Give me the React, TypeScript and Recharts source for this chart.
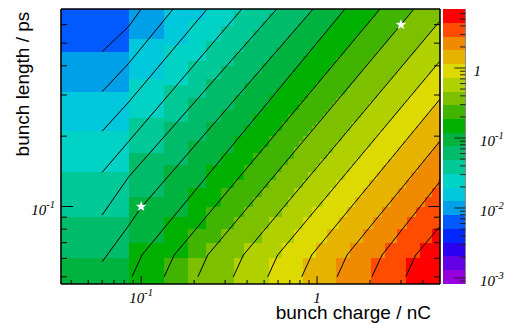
import { ReferenceArea, Scatter, ScatterChart, XAxis, YAxis } from "recharts";

// axis ranges
const chargeRange: [number, number] = [0.035, 5];
const lengthRange: [number, number] = [0.0466, 0.7];

const chargeTicks = [0.04, 0.05, 0.06, 0.07, 0.08, 0.09, 0.1, 0.2, 0.3, 0.4, 0.5, 0.6, 0.7, 0.8, 0.9, 1, 2, 3, 4];
const lengthTicks = [0.05, 0.06, 0.07, 0.08, 0.09, 0.1, 0.2, 0.3, 0.4, 0.5, 0.6];
const zTicks = [
  0.0009, 0.001, 0.002, 0.003, 0.004, 0.005, 0.006, 0.007, 0.008, 0.009,
  0.01, 0.02, 0.03, 0.04, 0.05, 0.06, 0.07, 0.08, 0.09,
  0.1, 0.2, 0.3, 0.4, 0.5, 0.6, 0.7, 0.8, 0.9,
  1, 2, 3, 4, 5, 6,
];

// 20 log-spaced colour levels of the z axis
const zLevels = [
  0.00082, 0.00129, 0.00203, 0.00318, 0.00501, 0.00787, 0.0124, 0.0195, 0.0306, 0.0481,
  0.0757, 0.119, 0.187, 0.294, 0.461, 0.726, 1.14, 1.79, 2.82, 4.43, 6.97,
];

// histogram binning: charge in 0.05 nC bins, length in 0.01 ps bins
const chargeBinLow = 0.035;
const chargeBinWidth = 0.05;
const chargeBinCount = 100;
const lengthBinEdges = [0.0466, ...Array.from({ length: 65 }, (_, k) => +(0.06 + 0.01 * k).toFixed(2))];

// contour lines through the bin centres, [charge nC, length ps]
const contour01 = [[0.06, 0.46], [0.085, 0.59], [0.1, 0.7]];
const contour02 = [[0.06, 0.31], [0.085, 0.41], [0.152, 0.7]];
const contour03 = [[0.06, 0.21], [0.085, 0.28], [0.237, 0.7]];
const contour04 = [[0.06, 0.14], [0.085, 0.19], [0.374, 0.7]];
const contour05 = [[0.06, 0.092], [0.085, 0.134], [0.59, 0.7]];
const contour06 = [[0.06, 0.058], [0.085, 0.083], [0.1, 0.099], [0.95, 0.7]];
const contour07 = [[0.0886, 0.05], [0.101, 0.062], [1.44, 0.7]];
const contour08 = [[0.135, 0.05], [0.154, 0.062], [2.28, 0.7]];
const contour09 = [[0.21, 0.05], [0.239, 0.062], [3.56, 0.7]];
const contour10 = [[0.334, 0.05], [0.381, 0.062], [4.96, 0.618]];
const contour11 = [[0.524, 0.05], [0.597, 0.062], [4.96, 0.4165]];
const contour12 = [[0.818, 0.05], [0.932, 0.062], [4.96, 0.286]];
const contour13 = [[1.3, 0.05], [1.48, 0.062], [4.96, 0.189]];
const contour14 = [[2.05, 0.05], [2.34, 0.062], [4.96, 0.127]];
const contour15 = [[3.19, 0.05], [3.64, 0.062], [4.96, 0.0817]];
const contours = [
  contour01, contour02, contour03, contour04, contour05, contour06, contour07, contour08,
  contour09, contour10, contour11, contour12, contour13, contour14, contour15,
];
const topLeftBand = 4;

const markers = [
  { q: 0.1, s: 0.1 },
  { q: 3, s: 0.6 },
];

// colour bar span used for the palette chart
const barSpan = [{ x: 0, z: zLevels[0] }, { x: 1, z: zLevels[zLevels.length - 1] }];

const palette = [
  "#9600dc", "#6400e6", "#2c00f0", "#0028ff", "#005aff", "#00a0e8", "#00c8dc", "#00d2c6",
  "#00c896", "#00bc6a", "#00b23e", "#00b000", "#40b400", "#7cc000", "#b0d000", "#dcda00",
  "#e6b400", "#f08a00", "#ff4c00", "#ff0000",
];

const serif = '"Liberation Serif", "Times New Roman", serif';
const sans = '"Liberation Sans", Arial, Helvetica, sans-serif';

function lengthOnContour(line: number[][], q: number) {
  const first = line[0];
  const last = line[line.length - 1];
  if (q <= first[0]) return first[1];
  if (q >= last[0]) return last[1];
  for (let i = 1; i < line.length; i++) {
    if (q <= line[i][0]) {
      const [q0, s0] = line[i - 1];
      const [q1, s1] = line[i];
      const t = Math.log10(q / q0) / Math.log10(q1 / q0);
      return 10 ** (Math.log10(s0) + t * Math.log10(s1 / s0));
    }
  }
  return last[1];
}

type Cell = { q1: number; q2: number; s1: number; s2: number; band: number };
const cells: Cell[] = [];
for (let r = 0; r < lengthBinEdges.length - 1; r++) {
  const s1 = lengthBinEdges[r];
  const s2 = lengthBinEdges[r + 1];
  const sc = r === 0 ? 0.05 : s1 + 0.005;
  let runStart = chargeRange[0];
  let runBand = -1;
  for (let i = 0; i < chargeBinCount; i++) {
    const qLo = Math.max(chargeBinLow + i * chargeBinWidth, chargeRange[0]);
    const qc = chargeBinLow + (i + 0.5) * chargeBinWidth;
    const band = topLeftBand + contours.filter((c) => sc < lengthOnContour(c, qc)).length;
    if (band !== runBand) {
      if (runBand >= 0) cells.push({ q1: runStart, q2: qLo, s1, s2, band: runBand });
      runStart = qLo;
      runBand = band;
    }
  }
  cells.push({ q1: runStart, q2: chargeRange[1], s1, s2, band: runBand });
}

const isMajor = (v: number) => Math.abs(Math.log10(v) - Math.round(Math.log10(v))) < 1e-6;

function PowerLabel({ x, y, value, anchor }: any) {
  const exp = Math.round(Math.log10(value));
  return (
    <text x={x} y={y} textAnchor={anchor} fontFamily={serif} fontStyle="italic" fontSize={15} fill="#000">
      {exp === 0 ? "1" : "10"}
      {exp !== 0 && (
        <tspan dy={-7} fontSize={10.5}>
          {exp}
        </tspan>
      )}
    </text>
  );
}

function BottomTick({ x, y, payload }: any) {
  const major = isMajor(payload.value);
  return (
    <g>
      <line x1={x} y1={y} x2={x} y2={y - (major ? 8 : 4)} stroke="#000" />
      {major && <PowerLabel x={x} y={y + 19} value={payload.value} anchor="middle" />}
    </g>
  );
}

function TopTick({ x, y, payload }: any) {
  const major = isMajor(payload.value);
  return <line x1={x} y1={y} x2={x} y2={y + (major ? 8 : 4)} stroke="#000" />;
}

function LeftTick({ x, y, payload }: any) {
  const major = isMajor(payload.value);
  return (
    <g>
      <line x1={x} y1={y} x2={x + (major ? 12 : 6)} y2={y} stroke="#000" />
      {major && <PowerLabel x={x - 6} y={y + 8.5} value={payload.value} anchor="end" />}
    </g>
  );
}

function RightTick({ x, y, payload }: any) {
  const major = isMajor(payload.value);
  return <line x1={x} y1={y} x2={x - (major ? 12 : 6)} y2={y} stroke="#000" />;
}

function ZTick({ x, y, payload }: any) {
  const major = isMajor(payload.value);
  const one = Math.abs(payload.value - 1) < 1e-9;
  return (
    <g>
      <line x1={x} y1={y} x2={x - (major ? 11 : 5.5)} y2={y} stroke="#222" />
      {major && <PowerLabel x={x + (one ? 8 : 14.5)} y={y + (one ? 7.5 : 8.5)} value={payload.value} anchor="start" />}
    </g>
  );
}

const Hidden = () => <g />;

function Star({ cx, cy }: any) {
  const pts: string[] = [];
  for (let i = 0; i < 10; i++) {
    const r = i % 2 === 0 ? 5.5 : 2.3;
    const a = -Math.PI / 2 + (i * Math.PI) / 5;
    pts.push(`${cx + r * Math.cos(a)},${cy + r * Math.sin(a)}`);
  }
  return <polygon points={pts.join(" ")} fill="#fff" />;
}

const frame = { stroke: "#000", strokeWidth: 1.6 };

export default function App() {
  return (
    <div style={{ position: "absolute", left: 0, top: 0, width: 508, height: 324, background: "#fff" }}>
      <div style={{ position: "absolute", left: 0, top: 0 }}>
        <ScatterChart width={508} height={324} margin={{ top: 0, right: 0, bottom: 0, left: 0 }}>
          <XAxis
            xAxisId="q"
            dataKey="q"
            type="number"
            scale="log"
            domain={chargeRange}
            allowDataOverflow
            ticks={chargeTicks}
            interval={0}
            tickSize={0}
            tickMargin={0}
            height={40}
            axisLine={frame}
            tickLine={false}
            tick={BottomTick}
          />
          <XAxis
            xAxisId="qTop"
            orientation="top"
            type="number"
            scale="log"
            domain={chargeRange}
            allowDataOverflow
            ticks={chargeTicks}
            interval={0}
            tickSize={0}
            tickMargin={0}
            height={9}
            axisLine={frame}
            tickLine={false}
            tick={TopTick}
          />
          <YAxis
            yAxisId="s"
            dataKey="s"
            type="number"
            scale="log"
            domain={lengthRange}
            allowDataOverflow
            ticks={lengthTicks}
            interval={0}
            tickSize={0}
            tickMargin={0}
            width={61}
            axisLine={frame}
            tickLine={false}
            tick={LeftTick}
          />
          <YAxis
            yAxisId="sRight"
            orientation="right"
            type="number"
            scale="log"
            domain={lengthRange}
            allowDataOverflow
            ticks={lengthTicks}
            interval={0}
            tickSize={0}
            tickMargin={0}
            width={68}
            axisLine={frame}
            tickLine={false}
            tick={RightTick}
          />
          {cells.map((c, i) => (
            <ReferenceArea
              key={`cell-${i}`}
              xAxisId="q"
              yAxisId="s"
              x1={c.q1}
              x2={c.q2}
              y1={c.s1}
              y2={c.s2}
              ifOverflow="visible"
              shape={(p: any) => (
                <rect x={p.x} y={p.y} width={p.width} height={p.height} fill={palette[c.band]} shapeRendering="crispEdges" />
              )}
            />
          ))}
          {contours.map((c, i) => (
            <Scatter
              key={`contour-${i}`}
              xAxisId="q"
              yAxisId="s"
              data={c.map(([q, s]) => ({ q, s }))}
              line={{ stroke: "#000", strokeWidth: 1 }}
              shape={Hidden}
              isAnimationActive={false}
            />
          ))}
          <Scatter xAxisId="q" yAxisId="s" data={markers} shape={Star} isAnimationActive={false} />
        </ScatterChart>
      </div>
      <div style={{ position: "absolute", left: 443, top: 0 }}>
        <ScatterChart width={65} height={324} margin={{ top: 9, right: 0, bottom: 40, left: 0 }}>
          <XAxis dataKey="x" type="number" domain={[0, 1]} allowDataOverflow hide />
          <YAxis
            dataKey="z"
            orientation="right"
            type="number"
            scale="log"
            domain={[zLevels[0], zLevels[zLevels.length - 1]]}
            allowDataOverflow
            ticks={zTicks}
            interval={0}
            tickSize={0}
            tickMargin={0}
            width={42.5}
            axisLine={{ stroke: "#888", strokeWidth: 1 }}
            tickLine={false}
            tick={ZTick}
          />
          {zLevels.slice(0, -1).map((lo, k) => (
            <ReferenceArea
              key={`band-${k}`}
              x1={0}
              x2={1}
              y1={lo}
              y2={zLevels[k + 1]}
              ifOverflow="visible"
              shape={(p: any) => (
                <rect x={p.x} y={p.y} width={p.width} height={p.height} fill={palette[k]} shapeRendering="crispEdges" />
              )}
            />
          ))}
          <Scatter data={barSpan} shape={Hidden} isAnimationActive={false} />
        </ScatterChart>
      </div>
      <svg width={508} height={324} style={{ position: "absolute", left: 0, top: 0, pointerEvents: "none" }}>
        <text x={431} y={318.5} textAnchor="end" fontFamily={sans} fontSize={19} fill="#000">
          bunch charge / nC
        </text>
        <text transform="translate(28.6 11.7) rotate(-90)" textAnchor="end" fontFamily={sans} fontSize={19} fill="#000">
          bunch length / ps
        </text>
      </svg>
    </div>
  );
}
